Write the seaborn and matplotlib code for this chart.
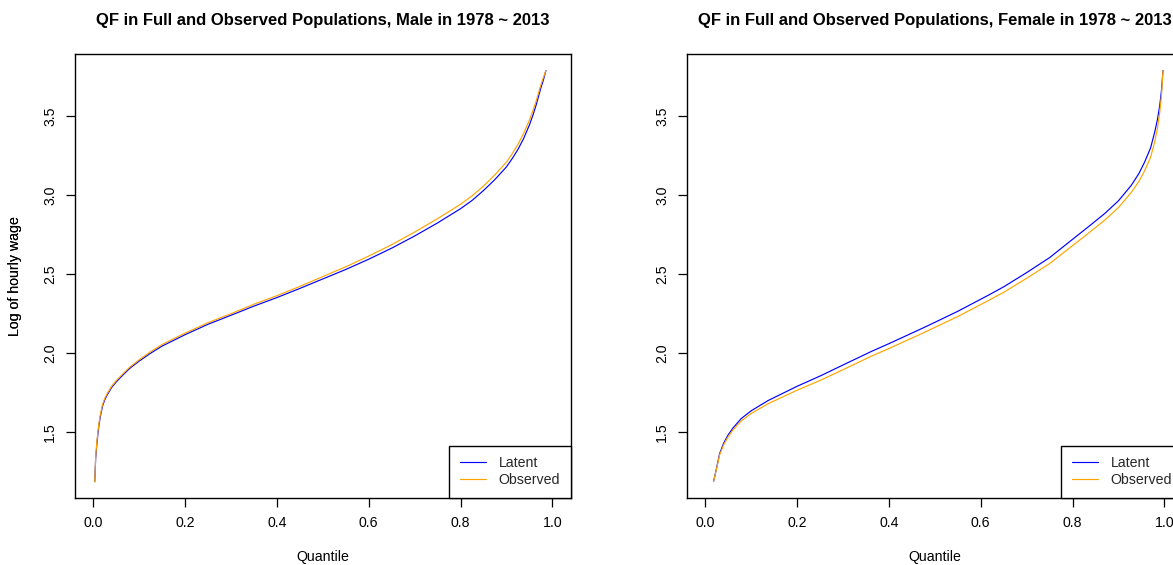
import matplotlib
matplotlib.use("Agg")
import matplotlib.pyplot as plt
from matplotlib.lines import Line2D
import pandas as pd
import seaborn as sns

# Quantile functions of log hourly wage, 1978 ~ 2013
male_q = [0.003, 0.005, 0.0075, 0.01, 0.0125, 0.015, 0.02, 0.025, 0.03, 0.04,
          0.05, 0.065, 0.08, 0.1, 0.125, 0.15, 0.2, 0.25, 0.3, 0.35, 0.4, 0.45,
          0.5, 0.55, 0.6, 0.65, 0.7, 0.75, 0.8, 0.825, 0.85, 0.875, 0.9, 0.9125,
          0.925, 0.9375, 0.95, 0.958, 0.965, 0.975, 0.98, 0.986]
male_latent = [1.185, 1.33, 1.42, 1.49, 1.55, 1.595, 1.665, 1.705, 1.735, 1.783,
               1.818, 1.863, 1.905, 1.95, 2.0, 2.045, 2.117, 2.183, 2.24, 2.298,
               2.352, 2.41, 2.47, 2.53, 2.595, 2.665, 2.742, 2.825, 2.915, 2.967,
               3.03, 3.10, 3.18, 3.232, 3.29, 3.36, 3.445, 3.51, 3.575, 3.68,
               3.725, 3.79]
male_observed = [1.185, 1.34, 1.435, 1.505, 1.562, 1.607, 1.675, 1.714, 1.743, 1.791,
                 1.826, 1.871, 1.913, 1.958, 2.01, 2.055, 2.127, 2.193, 2.25, 2.31,
                 2.364, 2.423, 2.485, 2.547, 2.615, 2.687, 2.767, 2.852, 2.943, 2.996,
                 3.058, 3.13, 3.21, 3.263, 3.322, 3.393, 3.475, 3.54, 3.60, 3.70,
                 3.742, 3.79]

female_q = [0.018, 0.025, 0.031, 0.04, 0.049, 0.06, 0.078, 0.1, 0.137, 0.2,
            0.253, 0.3, 0.362, 0.4, 0.471, 0.5, 0.55, 0.616, 0.65, 0.7, 0.75,
            0.797, 0.83, 0.87, 0.9, 0.928, 0.945, 0.957, 0.97, 0.979, 0.985,
            0.99, 0.994, 0.997]
female_latent = [1.188, 1.28, 1.363, 1.43, 1.479, 1.525, 1.585, 1.635, 1.70, 1.79,
                 1.859, 1.925, 2.011, 2.06, 2.155, 2.195, 2.265, 2.366, 2.42, 2.51,
                 2.605, 2.714, 2.79, 2.884, 2.965, 3.063, 3.14, 3.21, 3.30, 3.40,
                 3.48, 3.57, 3.67, 3.79]
female_observed = [1.188, 1.275, 1.355, 1.42, 1.467, 1.512, 1.57, 1.618, 1.68, 1.765,
                   1.831, 1.895, 1.981, 2.029, 2.123, 2.163, 2.232, 2.332, 2.385, 2.474,
                   2.567, 2.674, 2.749, 2.842, 2.922, 3.018, 3.09, 3.155, 3.24, 3.34,
                   3.425, 3.525, 3.64, 3.79]

series_names = ["Latent", "Observed"]
series_colors = {"Latent": "blue", "Observed": "orange"}
x_ticks = [0.0, 0.2, 0.4, 0.6, 0.8, 1.0]
y_ticks = [1.5, 2.0, 2.5, 3.0, 3.5]
titles = ["QF in Full and Observed Populations, Male in 1978 ~ 2013",
          "QF in Full and Observed Populations, Female in 1978 ~ 2013"]
x_label = "Quantile"
y_label = "Log of hourly wage"

sns.set_theme(style="ticks")
plt.rcParams["font.family"] = ["Liberation Sans", "DejaVu Sans"]
plt.rcParams["axes.linewidth"] = 1.0

FS = 10.2
W, H = 1173, 565
fig = plt.figure(figsize=(W / 100, H / 100), dpi=100)

# panel boxes in pixels (left, top, right, bottom); the second runs past the edge
boxes = [(75, 54, 570.7, 497.7), (687, 54, 1182.7, 497.7)]

panels = [
    (male_q, male_latent, male_observed),
    (female_q, female_latent, female_observed),
]

for (l, t, r, b), (qs, lat, obs), title in zip(boxes, panels, titles):
    ax = fig.add_axes([l / W, 1 - b / H, (r - l) / W, (b - t) / H])
    df = pd.DataFrame({
        "q": list(qs) + list(qs),
        "v": list(lat) + list(obs),
        "series": ["Latent"] * len(qs) + ["Observed"] * len(qs),
    })
    sns.lineplot(data=df, x="q", y="v", hue="series", hue_order=series_names,
                 palette=series_colors, estimator=None, sort=False,
                 linewidth=0.85, legend=False, ax=ax)
    ax.set_xlim(-0.04, 1.04)
    ax.set_ylim(1.084, 3.895)
    ax.set_xticks(x_ticks)
    ax.set_xticklabels([f"{v:.1f}" for v in x_ticks])
    ax.set_yticks(y_ticks)
    ax.set_yticklabels([f"{v:.1f}" for v in y_ticks])
    ax.tick_params(axis="both", direction="out", length=6.2, width=0.9,
                   color="black", labelsize=FS, labelcolor="black")
    ax.tick_params(axis="x", pad=7.0)
    ax.tick_params(axis="y", pad=6.5)
    for lab in ax.get_yticklabels():
        lab.set_rotation(90)
        lab.set_va("center")
        lab.set_ha("right")
    for s in ax.spines.values():
        s.set_visible(True)
        s.set_color("black")
        s.set_linewidth(1.0)

    ax.set_xlabel(x_label, fontsize=FS, color="black")
    ax.set_ylabel(y_label, fontsize=FS, color="black")
    ax.xaxis.set_label_coords(0.5, (b - 557) / (b - t))
    ax.xaxis.label.set_va("center")
    ax.yaxis.set_label_coords((15.5 - l) / (r - l), 0.5)
    ax.yaxis.label.set_va("center")

    ax.text(0.5, (b - 20) / (b - t), title, transform=ax.transAxes,
            ha="center", va="center", fontsize=12.0, fontweight="bold",
            color="black")

    handles = [Line2D([], [], color=series_colors[n], lw=0.85) for n in series_names]
    leg = ax.legend(handles, series_names, loc="lower right", borderaxespad=0,
                    fancybox=False, framealpha=1, edgecolor="black",
                    fontsize=FS, handlelength=1.83, handletextpad=0.9,
                    borderpad=0.75, labelspacing=0.2)
    leg.get_frame().set_linewidth(1.0)

fig.savefig("out.png", dpi=100, facecolor="white")
